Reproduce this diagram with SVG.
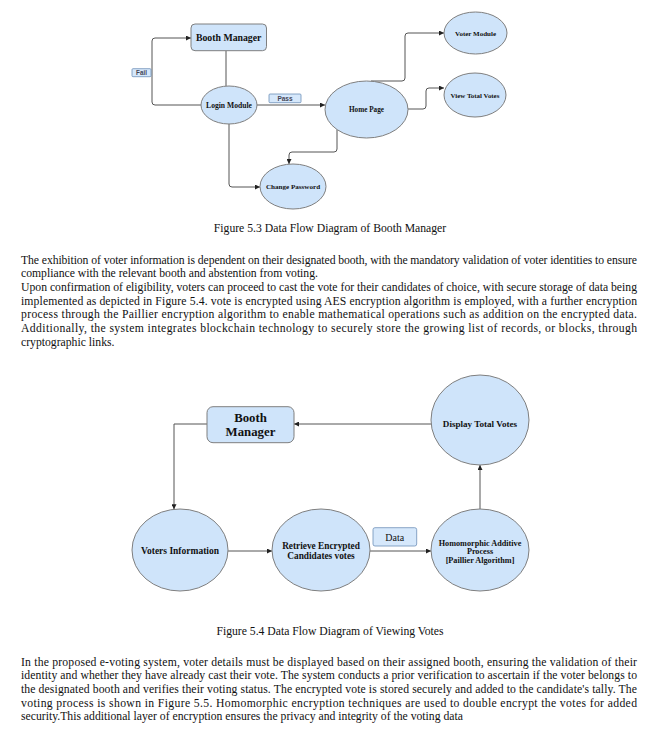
<svg xmlns="http://www.w3.org/2000/svg" width="659" height="741" viewBox="0 0 659 741">
<defs>
<marker id="arr" viewBox="0 0 10 10" refX="10" refY="5" markerWidth="5" markerHeight="5" orient="auto" markerUnits="userSpaceOnUse">
<path d="M0,0 L10,5 L0,10 z" fill="#222"/>
</marker>
</defs>
<style>
.node{fill:#cfe4fa;stroke:#7f7f7f;stroke-width:1}
.lbl{fill:#d6e8fb;stroke:#6d8fb8;stroke-width:0.8}
.edge{fill:none;stroke:#555;stroke-width:1}
.arrow{marker-end:url(#arr)}
.nt{font-family:"Liberation Serif","Times New Roman",serif;font-weight:bold;fill:#111;text-anchor:middle}
.lt{font-family:"Liberation Sans",Arial,sans-serif;font-weight:bold;fill:#445;text-anchor:middle}
.body{font-family:"Liberation Serif","Times New Roman",serif;font-size:11.7px;fill:#111}
.cap{font-family:"Liberation Serif","Times New Roman",serif;font-size:11.7px;fill:#111;text-anchor:middle}
</style>
<rect width="659" height="741" fill="#fff"/>

<!-- Figure 5.3 -->
<g id="connectors-53">
<path class="edge arrow" d="M201 105 H155 Q152 105 152 102 V41 Q152 38 155 38 H191"/>
<path class="edge" d="M226 50.7 V86"/>
<path class="edge arrow" d="M257 105 H325"/>
<path class="edge arrow" d="M371 81 H402 Q405 81 405 78 V36 Q405 33 408 33 H444"/>
<path class="edge arrow" d="M408 109 H423 Q426 109 426 106 V91 Q426 88 429 88 H444"/>
<path class="edge arrow" d="M229 124 V184 Q229 187 232 187 H260"/>
<path class="edge arrow" d="M337 129.5 V149 Q337 152 334 152 H292 Q289 152 289 155 V164"/>
<g id="label-fail"><rect class="lbl" x="132" y="68.7" width="19" height="8" rx="1"/><text class="lt" x="141.5" y="75.3" font-size="6.3">Fail</text></g>
<g id="label-pass"><rect class="lbl" x="269" y="94" width="32" height="8.7" rx="1"/><text class="lt" x="285" y="100.8" font-size="6.5">Pass</text></g>
</g>
<g id="booth-manager-53"><rect class="node" x="191" y="24" width="75.5" height="26.7" rx="4"/><text class="nt" x="228.7" y="40.5" font-size="9.8">Booth Manager</text></g>
<g id="login-module"><ellipse class="node" cx="229" cy="105" rx="28" ry="19"/><text class="nt" x="229" y="107.5" font-size="7.6">Login Module</text></g>
<g id="home-page"><ellipse class="node" cx="366.5" cy="109.5" rx="41.5" ry="28.5"/><text class="nt" x="366.5" y="112" font-size="7.2">Home Page</text></g>
<g id="voter-module"><ellipse class="node" cx="475.5" cy="33" rx="31.5" ry="21"/><text class="nt" x="475.5" y="35.5" font-size="7">Voter Module</text></g>
<g id="view-total-votes"><ellipse class="node" cx="475" cy="95" rx="31" ry="22"/><text class="nt" x="475" y="97.5" font-size="6.9">View Total Votes</text></g>
<g id="change-password"><ellipse class="node" cx="293" cy="186.5" rx="33" ry="22.5"/><text class="nt" x="293" y="189" font-size="7.1">Change Password</text></g>

<text class="cap" x="330" y="232">Figure 5.3 Data Flow Diagram of Booth Manager</text>

<g id="para1" class="body">
<text x="21" y="263.5" textLength="616" lengthAdjust="spacing">The exhibition of voter information is dependent on their designated booth, with the mandatory validation of voter identities to ensure</text>
<text x="21" y="277.2">compliance with the relevant booth and abstention from voting.</text>
<text x="21" y="290.9" textLength="616" lengthAdjust="spacing">Upon confirmation of eligibility, voters can proceed to cast the vote for their candidates of choice, with secure storage of data being</text>
<text x="21" y="304.6" textLength="616" lengthAdjust="spacing">implemented as depicted in Figure 5.4. vote is encrypted using AES encryption algorithm is employed, with a further encryption</text>
<text x="21" y="318.3" textLength="616" lengthAdjust="spacing">process through the Paillier encryption algorithm to enable mathematical operations such as addition on the encrypted data.</text>
<text x="21" y="332" textLength="616" lengthAdjust="spacing">Additionally, the system integrates blockchain technology to securely store the growing list of records, or blocks, through</text>
<text x="21" y="345.7">cryptographic links.</text>
</g>

<!-- Figure 5.4 -->
<g id="connectors-54">
<path class="edge arrow" d="M431 424 H294"/>
<path class="edge arrow" d="M207 424 H174 V509.3"/>
<path class="edge arrow" d="M228 551 H272"/>
<path class="edge arrow" d="M370 551 H431"/>
<path class="edge arrow" d="M480 509 V465"/>
<g id="label-data"><rect class="lbl" x="373" y="527.7" width="43.7" height="18.3" rx="2"/><text x="394.8" y="540.5" font-family="'Liberation Serif','Times New Roman',serif" font-size="10" fill="#111" text-anchor="middle">Data</text></g>
</g>
<g id="booth-manager-54"><rect class="node" x="207" y="406.7" width="87" height="36" rx="6"/><text class="nt" x="250.5" y="422" font-size="12.8">Booth</text><text class="nt" x="250.5" y="435.5" font-size="12.8">Manager</text></g>
<g id="display-total-votes"><ellipse class="node" cx="480" cy="420" rx="49" ry="45"/><text class="nt" x="480" y="427" font-size="9.1">Display Total Votes</text></g>
<g id="voters-information"><ellipse class="node" cx="180" cy="550" rx="48" ry="41"/><text class="nt" x="180" y="554" font-size="9.5">Voters Information</text></g>
<g id="retrieve-encrypted"><ellipse class="node" cx="321" cy="550" rx="49" ry="41"/><text class="nt" x="321" y="549" font-size="9.3">Retrieve Encrypted</text><text class="nt" x="321" y="558.5" font-size="9.3">Candidates votes</text></g>
<g id="homomorphic"><ellipse class="node" cx="480" cy="550" rx="49" ry="41"/><text class="nt" x="480" y="545.5" font-size="8.2">Homomorphic Additive</text><text class="nt" x="480" y="554" font-size="8.2">Process</text><text class="nt" x="480" y="563" font-size="8.2">[Paillier Algorithm]</text></g>

<text class="cap" x="330" y="635">Figure 5.4 Data Flow Diagram of Viewing Votes</text>

<g id="para2" class="body">
<text x="21" y="665.5" textLength="616" lengthAdjust="spacing">In the proposed e-voting system, voter details must be displayed based on their assigned booth, ensuring the validation of their</text>
<text x="21" y="679.2" textLength="616" lengthAdjust="spacing">identity and whether they have already cast their vote. The system conducts a prior verification to ascertain if the voter belongs to</text>
<text x="21" y="692.9" textLength="616" lengthAdjust="spacing">the designated booth and verifies their voting status. The encrypted vote is stored securely and added to the candidate's tally. The</text>
<text x="21" y="706.6" textLength="616" lengthAdjust="spacing">voting process is shown in Figure 5.5. Homomorphic encryption techniques are used to double encrypt the votes for added</text>
<text x="21" y="720.3">security.This additional layer of encryption ensures the privacy and integrity of the voting data</text>
</g>
</svg>
